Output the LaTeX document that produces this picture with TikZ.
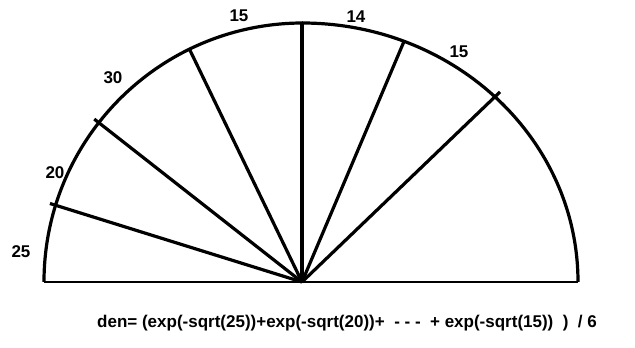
\documentclass[tikz,border=0pt]{standalone}
\usepackage{fontspec}
\setmainfont{Liberation Sans}
\usepackage{tikz}

\begin{document}
\begin{tikzpicture}[x=1pt,y=1pt,
    spoke/.style={line width=3.2pt},
    rim/.style={line width=3.2pt},
    lbl/.style={font=\fontsize{17}{19}\selectfont\bfseries, inner sep=0pt}]
\useasboundingbox (-302,-66) rectangle (333,282);

% Centre of the fan
\coordinate (O) at (0,0);

% Base line
\coordinate (L) at (-258,0);
\coordinate (R) at (276,0);
\draw[line width=2.4pt] (L) -- (R);

% Rim (left and right quarter)
\draw[rim] (L) arc[start angle=180, end angle=90, radius=259];
\draw[rim] (0,259) arc[start angle=90, end angle=0, x radius=276, y radius=259];

% Spokes, left side
\foreach \a/\r/\n in {162.7/264/a, 141.9/264/b, 115.8/259/c} {
    \coordinate (\n) at (\a:\r);
    \draw[spoke] (O) -- (\n);
}
\coordinate (d) at (0,259);
\draw[spoke] (O) -- (d);

% Spokes, right side
\coordinate (e) at ({276*cos(68.3)},{259*sin(68.3)});
\coordinate (f) at ({283*cos(45.6)},{266*sin(45.6)});
\draw[spoke] (O) -- (e);
\draw[spoke] (O) -- (f);

% Labels
\node[lbl] (w25) at (-281,30) {25};
\node[lbl] (w20) at (-247,109) {20};
\node[lbl] (w30) at (-189,204) {30};
\node[lbl] (w15a) at (-63,266) {15};
\node[lbl] (w14) at (54,265) {14};
\node[lbl] (w15b) at (157,230) {15};

% Formula
\node[lbl, anchor=west] (den) at (-205,-41)
    {den= (exp(-sqrt(25))+exp(-sqrt(20))+ \ - - - \ + exp(-sqrt(15)) \ ) \ / 6};

\end{tikzpicture}
\end{document}
